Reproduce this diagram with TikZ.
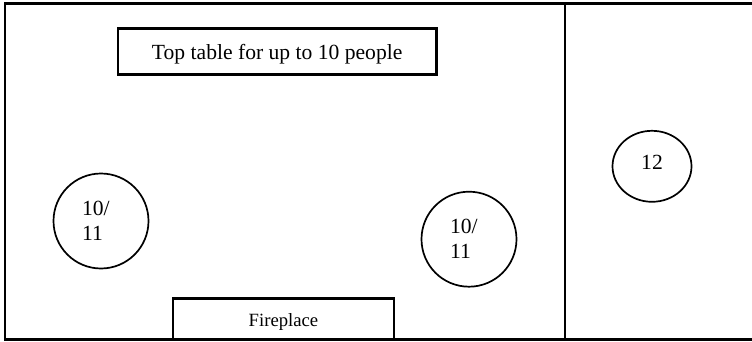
\documentclass[tikz,border=0pt]{standalone}
\usepackage{fontspec}
\setmainfont{Liberation Serif}
\usetikzlibrary{shapes.geometric}

\begin{document}
\begin{tikzpicture}[x=1pt,y=-1pt,
        wall/.style={line width=2.4pt},
        longtable/.style={draw,rectangle,line width=2.3pt,inner sep=0pt,
            text depth=0pt,font=\fontsize{21.6}{25}\selectfont},
        roundtable/.style={draw,circle,line width=1.7pt,minimum size=95pt,inner sep=0pt,
            align=left,text width=38pt,font=\fontsize{21.6}{25}\selectfont}]
    \useasboundingbox (0,0) rectangle (752,342);
    % room
    \coordinate (nw) at (5,3.7);
    \coordinate (sw) at (5,339.5);
    \coordinate (ne) at (770,3.7);
    \coordinate (se) at (770,339.5);
    \coordinate (divtop) at (565.2,3.7);
    \coordinate (divbot) at (565.2,339.5);
    \draw[wall] (ne) -- (nw) -- (sw) -- (se);
    \draw[wall] (divtop) -- (divbot);
    % tables
    \node[longtable,minimum width=318.8pt,minimum height=46.2pt,text height=15.6pt]
        (toptable) at (277.2,51.5) {Top table for up to 10 people};
    \node[longtable,minimum width=221.4pt,minimum height=40.6pt,text height=15pt,
        font=\fontsize{18.7}{22}\selectfont]
        (fireplace) at (283.5,318.7) {Fireplace};
    \node[roundtable] (tableleft) at (101,221) {10/\\11};
    \node[roundtable] (tablemid) at (469,239.2) {10/\\11};
    \node[draw,ellipse,line width=1.7pt,minimum width=79pt,minimum height=71pt,inner sep=0pt,
        text height=14pt,text depth=8pt,font=\fontsize{21.6}{25}\selectfont]
        (tableright) at (652,166.3) {12};
\end{tikzpicture}
\end{document}
